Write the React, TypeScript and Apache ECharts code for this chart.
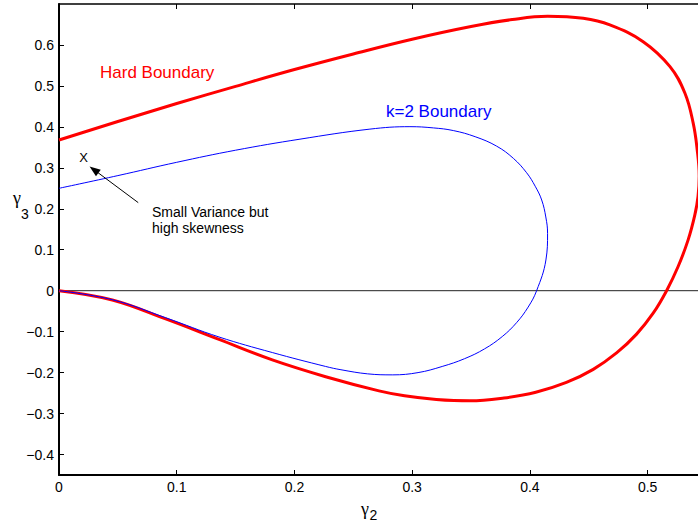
import React, { useEffect, useRef } from "react";
import * as echarts from "echarts";

// Tick values
const xTicks = [0, 0.1, 0.2, 0.3, 0.4, 0.5];
const yTicks = [-0.4, -0.3, -0.2, -0.1, 0, 0.1, 0.2, 0.3, 0.4, 0.5, 0.6];

// Hard boundary curve (gamma2, gamma3)
const hardBoundary: [number, number][] = [
  [0, 0.368], [0.05, 0.413], [0.1, 0.457], [0.15, 0.499], [0.2, 0.54],
  [0.25, 0.578], [0.3, 0.614], [0.35, 0.645], [0.385, 0.662], [0.415, 0.67],
  [0.4453, 0.665], [0.4679, 0.649], [0.4962, 0.608], [0.519, 0.547],
  [0.5317, 0.482], [0.5387, 0.409], [0.5421, 0.344], [0.5438, 0.28],
  [0.5428, 0.23], [0.5401, 0.185], [0.5344, 0.124], [0.5259, 0.059],
  [0.5161, 0.0], [0.5047, -0.055], [0.4906, -0.106], [0.4736, -0.152],
  [0.4538, -0.192], [0.431, -0.224], [0.405, -0.248], [0.378, -0.262],
  [0.349, -0.269], [0.3205, -0.2655], [0.2935, -0.2565], [0.2718, -0.2445],
  [0.2265, -0.21], [0.1812, -0.169], [0.1359, -0.119], [0.0906, -0.069],
  [0.0453, -0.0227], [0, 0],
];

// k=2 boundary curve
const k2Boundary: [number, number][] = [
  [0, 0.25], [0.05, 0.281], [0.1, 0.3135], [0.15, 0.343], [0.2047, 0.37],
  [0.2641, 0.3945], [0.2981, 0.4005], [0.318, 0.3975], [0.3349, 0.391],
  [0.3535, 0.376], [0.3717, 0.353], [0.386, 0.323], [0.3972, 0.288],
  [0.4045, 0.255], [0.41, 0.2215], [0.4135, 0.18], [0.415, 0.14],
  [0.4136, 0.075], [0.4057, 0.0], [0.3985, -0.04], [0.3887, -0.078],
  [0.3765, -0.112], [0.3615, -0.142], [0.3445, -0.166], [0.3255, -0.185],
  [0.305, -0.2], [0.2835, -0.2055], [0.262, -0.203], [0.2395, -0.193],
  [0.2265, -0.185], [0.1812, -0.151], [0.1359, -0.113], [0.0906, -0.066],
  [0.0453, -0.022], [0, 0],
];

// Horizontal zero line
const zeroLine: [number, number][] = [[0, 0], [0.55, 0]];

// Annotation arrow (tail -> head) in data coordinates
const arrowTail: [number, number] = [0.0673, 0.215];
const arrowHead: [number, number] = [0.0297, 0.2955];

const FONT = "'Liberation Sans', Arial, Helvetica, sans-serif";
const GREEK = "'Liberation Serif', 'Times New Roman', serif";

const fmt = (v: number) =>
  Math.abs(v) < 1e-9 ? "0" : (v < 0 ? "\u2212" : "") + Math.abs(v).toFixed(1);

export default function App() {
  const ref = useRef<HTMLDivElement>(null);

  useEffect(() => {
    document.body.style.margin = "0";
    if (!ref.current) return;
    const chart = echarts.init(ref.current, undefined, { renderer: "svg" });
    chart.setOption({
      animation: false,
      backgroundColor: "#ffffff",
      grid: {
        left: 59,
        top: 4,
        width: 647.5,
        height: 471,
        containLabel: false,
        outerBoundsMode: "none",
      },
      xAxis: [
        {
          type: "value",
          min: 0,
          max: 0.55,
          position: "bottom",
          axisLine: { show: true, onZero: false, lineStyle: { color: "#000", width: 2 } },
          axisTick: { show: true, inside: true, length: 5, customValues: xTicks, lineStyle: { color: "#000", width: 1 } },
          axisLabel: {
            show: true,
            customValues: xTicks,
            formatter: fmt,
            color: "#000",
            fontSize: 14,
            fontFamily: FONT,
            margin: 5,
          },
          splitLine: { show: false },
        },
        {
          type: "value",
          min: 0,
          max: 0.55,
          position: "top",
          axisLine: { show: true, onZero: false, lineStyle: { color: "#000", width: 1.5 } },
          axisTick: { show: true, inside: true, length: 5, customValues: xTicks, lineStyle: { color: "#000", width: 1 } },
          axisLabel: { show: false },
          splitLine: { show: false },
        },
      ],
      yAxis: [
        {
          type: "value",
          min: -0.45,
          max: 0.7,
          position: "left",
          axisLine: { show: true, onZero: false, lineStyle: { color: "#000", width: 2 } },
          axisTick: { show: true, inside: true, length: 5, customValues: yTicks, lineStyle: { color: "#000", width: 1 } },
          axisLabel: {
            show: true,
            customValues: yTicks,
            formatter: fmt,
            color: "#000",
            fontSize: 14,
            fontFamily: FONT,
            margin: 5,
          },
          splitLine: { show: false },
        },
      ],
      series: [
        {
          name: "zero",
          type: "line",
          data: zeroLine,
          showSymbol: false,
          lineStyle: { color: "#222", width: 1 },
          silent: true,
          z: 1,
          markLine: {
            silent: true,
            symbol: ["none", "triangle"],
            symbolSize: [8, 11],
            lineStyle: { color: "#000", width: 1, type: "solid" },
            label: { show: false },
            emphasis: { disabled: true },
            data: [[{ coord: arrowTail }, { coord: arrowHead }]],
          },
        },
        {
          name: "Hard Boundary",
          type: "line",
          data: hardBoundary,
          showSymbol: false,
          smooth: 0.4,
          lineStyle: { color: "#ff0000", width: 3 },
          silent: true,
          z: 2,
        },
        {
          name: "k=2 Boundary",
          type: "line",
          data: k2Boundary,
          showSymbol: false,
          smooth: 0.4,
          lineStyle: { color: "#0000ff", width: 1 },
          silent: true,
          z: 3,
        },
      ],
      graphic: [
        {
          type: "text",
          x: 100,
          y: 72,
          style: { text: "Hard Boundary", fill: "#ff0000", fontSize: 17, fontFamily: FONT, verticalAlign: "middle", align: "left" },
        },
        {
          type: "text",
          x: 386,
          y: 111,
          style: { text: "k=2 Boundary", fill: "#0000ff", fontSize: 17, fontFamily: FONT, verticalAlign: "middle", align: "left" },
        },
        {
          type: "text",
          x: 83.5,
          y: 157,
          style: { text: "X", fill: "#000", fontSize: 13, fontFamily: FONT, verticalAlign: "middle", align: "center" },
        },
        {
          type: "text",
          x: 152,
          y: 219.5,
          style: {
            text: "Small Variance but\nhigh skewness",
            fill: "#000",
            fontSize: 14,
            lineHeight: 16,
            fontFamily: FONT,
            verticalAlign: "middle",
            align: "left",
          },
        },
        {
          type: "text",
          x: 13,
          y: 198,
          style: { text: "γ", fill: "#000", fontSize: 18, fontFamily: GREEK, verticalAlign: "middle", align: "left" },
        },
        {
          type: "text",
          x: 21,
          y: 214,
          style: { text: "3", fill: "#000", fontSize: 14, fontFamily: FONT, verticalAlign: "middle", align: "left" },
        },
        {
          type: "text",
          x: 361,
          y: 509,
          style: { text: "γ", fill: "#000", fontSize: 18, fontFamily: GREEK, verticalAlign: "middle", align: "left" },
        },
        {
          type: "text",
          x: 369.5,
          y: 515,
          style: { text: "2", fill: "#000", fontSize: 14, fontFamily: FONT, verticalAlign: "middle", align: "left" },
        },
      ],
    });
    return () => chart.dispose();
  }, []);

  return <div ref={ref} style={{ width: 698, height: 525 }} />;
}
